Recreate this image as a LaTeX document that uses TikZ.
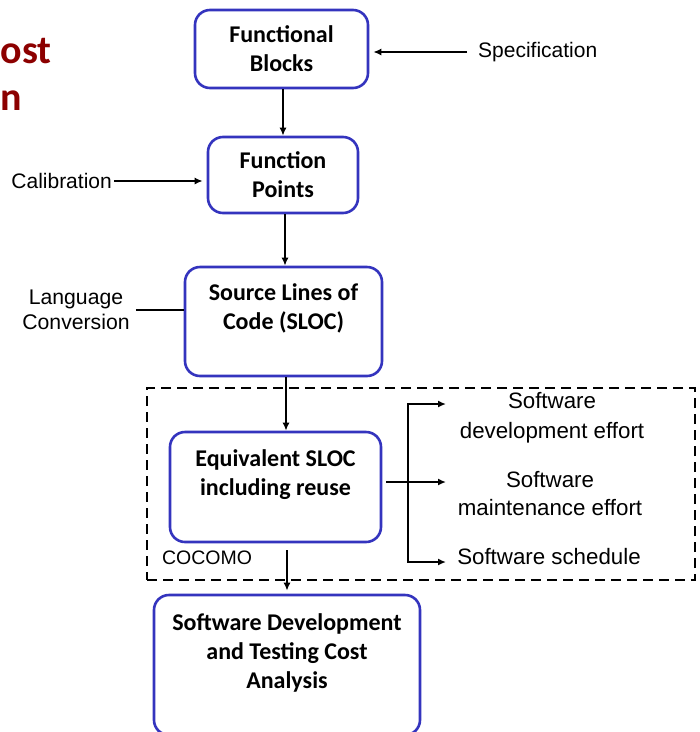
\documentclass[tikz,border=0pt]{standalone}
\usepackage{fontspec}
\setmainfont{Liberation Sans}
\newfontfamily\calib{Carlito}
\usetikzlibrary{arrows.meta}
\definecolor{boxblue}{RGB}{52,52,190}
\definecolor{titlered}{RGB}{140,0,0}
\begin{document}
\begin{tikzpicture}[x=1pt,y=-1pt,
 box/.style={draw=boxblue, line width=2.6pt, rounded corners=15pt, inner sep=0pt},
 btext/.style={font=\calib\bfseries\fontsize{24}{29}\selectfont, align=center, inner sep=0pt},
 lab/.style={font=\fontsize{19.5}{23}\selectfont, align=center, inner sep=0pt},
 ttl/.style={font=\calib\bfseries\fontsize{40}{48}\selectfont, text=titlered, anchor=base east, inner sep=0pt},
 arr/.style={line width=2pt, -{Latex[length=8pt,width=7pt]}},
 ln/.style={line width=2pt},
 dbox/.style={draw, line width=2pt, dash pattern=on 10pt off 6pt, inner sep=0pt},
]
\useasboundingbox (0,0) rectangle (700,732);

% title fragments
\node[ttl] (ti1) at (52,63) {ost};
\node[ttl] (ti2) at (22,110) {n};

% COCOMO region
\node[dbox, minimum width=548pt, minimum height=192pt] (cb) at (421,484) {};
\node[lab] (coc) at (207,558) {COCOMO};

% boxes
\node[box, minimum width=173pt, minimum height=78pt] (b1) at (281.5,49) {};
\node[btext] (t1) at (281.5,49) {Functional\\Blocks};
\node[box, minimum width=150pt, minimum height=76pt] (b2) at (283,175) {};
\node[btext] (t2) at (283,175) {Function\\Points};
\node[box, minimum width=197pt, minimum height=109pt] (b3) at (283.5,321.5) {};
\node[btext] (t3) at (283.5,308) {Source Lines of\\Code (SLOC)};
\node[box, minimum width=211pt, minimum height=110pt] (b4) at (275.5,487) {};
\node[btext] (t4) at (275.5,475) {Equivalent SLOC\\including reuse};
\node[box, minimum width=266pt, minimum height=140pt] (b5) at (287,665) {};
\node[btext] (t5) at (287,653) {Software Development\\and Testing Cost\\Analysis};

% side labels
\node[lab, font=\fontsize{21}{25}\selectfont, anchor=west] (spec) at (478,52) {Specification};
\node[lab, font=\fontsize{21}{25}\selectfont, anchor=east] (cal) at (112,181) {Calibration};
\node[lab, font=\fontsize{21.2}{25}\selectfont] (lang) at (76,310) {Language\\Conversion};
\node[lab, font=\fontsize{22.3}{30}\selectfont] (l1) at (552,418) {Software\\development effort};
\node[lab, font=\fontsize{22.3}{28}\selectfont] (l2) at (550,494) {Software\\maintenance effort};
\node[lab, font=\fontsize{22.3}{28}\selectfont] (l3) at (549,557) {Software schedule};

% connectors
\draw[arr, shorten <=11pt, shorten >=4pt] (spec.west) -- (spec.west -| b1.east);
\draw[arr, shorten <=2pt, shorten >=4pt] (cal.east) -- (cal.east -| b2.west);
\draw[ln, shorten <=6pt] (lang.east) -- (lang.east -| b3.west);

\draw[arr] ([xshift=1.5pt]b1.south) -- ([xshift=1.5pt]b1.south |- b2.north);
\draw[arr] ([xshift=2pt]b2.south) -- ([xshift=2pt]b2.south |- b3.north);
\draw[arr] ([xshift=2.5pt]b3.south) -- ([xshift=2.5pt]b3.south |- b4.north);
\draw[arr, shorten <=7pt, shorten >=3pt] (b4.south -| b5.north) -- (b5.north);

\coordinate (j) at (408,482);
\coordinate (o1) at (446,404);
\coordinate (o2) at (446,482);
\coordinate (o3) at (446,562);
\draw[ln, shorten <=4pt] (j -| b4.east) -- (j);
\draw[arr] (j) |- (o1);
\draw[arr] (j) -- (o2);
\draw[arr] (j) |- (o3);
\end{tikzpicture}
\end{document}
